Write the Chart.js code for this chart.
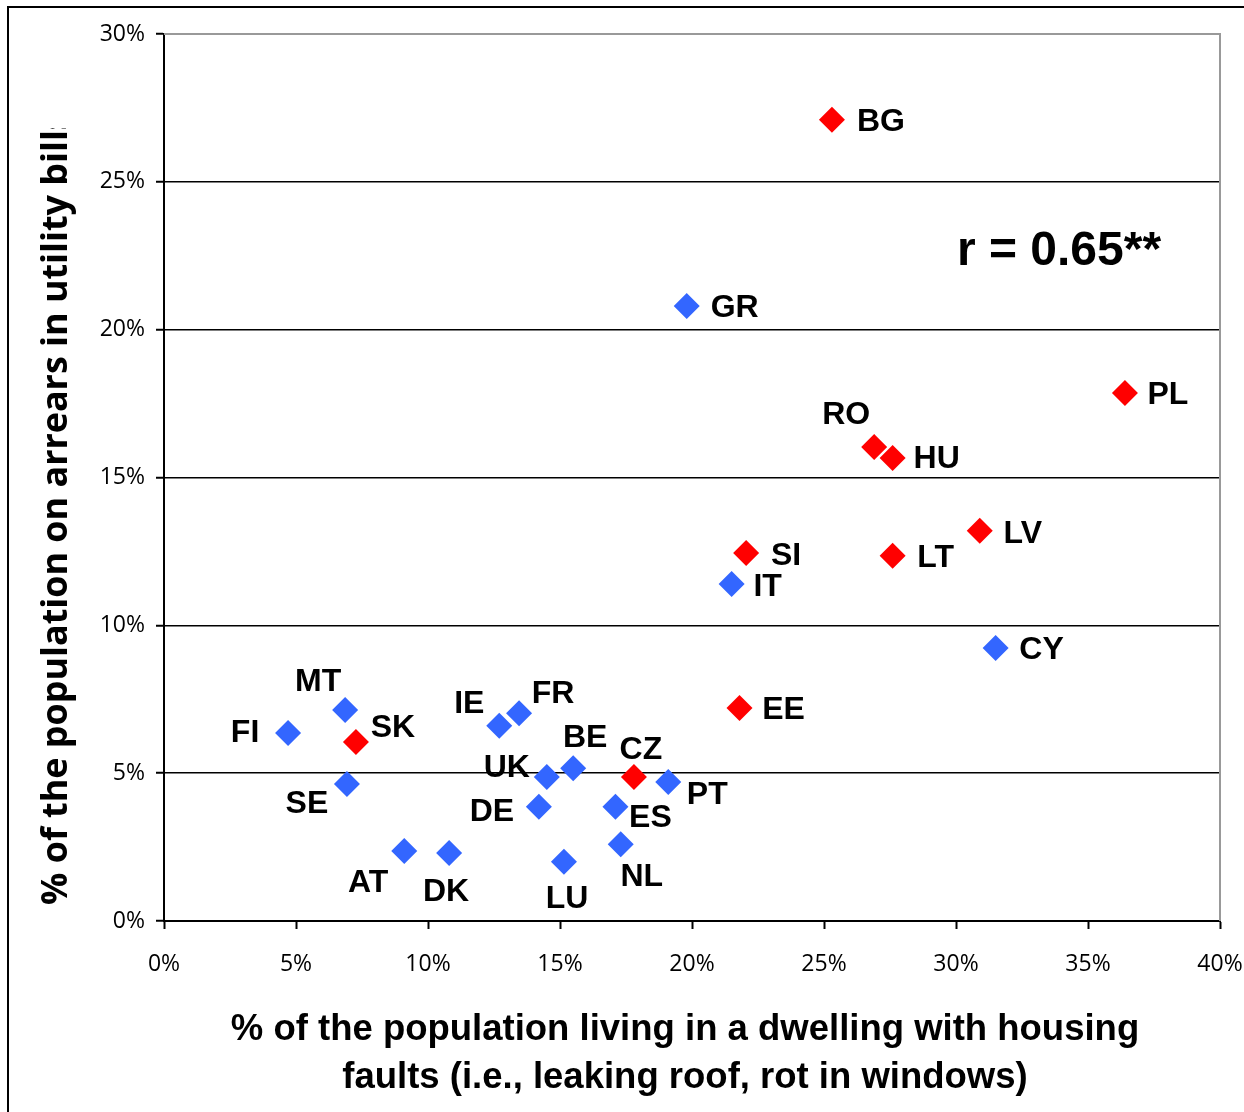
<!DOCTYPE html>
<html>
<head>
<meta charset="utf-8">
<script src="https://cdn.jsdelivr.net/npm/chart.js@4.4.0/dist/chart.umd.min.js"></script>
<style>
  body { margin: 0; background: #fff; }
  #wrap { width: 1244px; height: 1112px; }
</style>
</head>
<body>
<div id="wrap"><canvas id="scatter" width="1244" height="1112"></canvas></div>
<script>
// Country codes and their values (% of population)
const countries = ['BG', 'GR', 'PL', 'RO', 'HU', 'LV', 'LT', 'SI', 'IT', 'CY', 'EE', 'MT', 'FI', 'SK',
                   'SE', 'IE', 'FR', 'UK', 'BE', 'DE', 'CZ', 'PT', 'ES', 'NL', 'LU', 'AT', 'DK'];
// x: living in a dwelling with housing faults
const housingFaults = [25.3, 19.8, 36.4, 26.9, 27.6, 30.9, 27.6, 22.05, 21.5, 31.5, 21.8, 6.86, 4.7, 7.27,
                       6.93, 12.7, 13.45, 14.5, 15.5, 14.2, 17.8, 19.1, 17.1, 17.3, 15.15, 9.1, 10.8];
// y: arrears in utility bills
const utilityArrears = [27.1, 20.8, 17.86, 16.03, 15.66, 13.2, 12.35, 12.45, 11.4, 9.23, 7.2, 7.14, 6.36, 6.05,
                        4.63, 6.6, 7.03, 4.87, 5.17, 3.86, 4.87, 4.7, 3.86, 2.6, 2.0, 2.37, 2.3];
// highlighted group (red markers)
const redGroup = ['BG', 'PL', 'RO', 'HU', 'LV', 'LT', 'SI', 'EE', 'SK', 'CZ'];

const xTicks = [0, 5, 10, 15, 20, 25, 30, 35, 40];
const yTicks = [0, 5, 10, 15, 20, 25, 30];
const correlationText = 'r = 0.65**';
const xTitle = ['% of the population living in a dwelling with housing', 'faults (i.e., leaking roof, rot in windows)'];
const yTitle = '% of the population on arrears in utility bills';

// label placement around each marker (pixels, label centre relative to point)
const labelOffset = {
  BG: [49, 2], GR: [48, 2], PL: [43, 2], RO: [-28, -32], HU: [44, 1], LV: [43, 3], LT: [43, 2],
  SI: [40, 3], IT: [36, 3], CY: [46, 2], EE: [44, 2], MT: [-27, -28], FI: [-43, 0], SK: [37, -14],
  SE: [-40, 20], IE: [-30, -22], FR: [34, -19], UK: [-40, -9], BE: [12, -30], DE: [-47, 5],
  CZ: [7, -27], PT: [39, 13], ES: [35, 11], NL: [21, 33], LU: [3, 37], AT: [-36, 32], DK: [-3, 39]
};

const points = countries.map((c, i) => ({ x: housingFaults[i], y: utilityArrears[i], code: c }));
const colors = countries.map(c => redGroup.includes(c) ? '#FF0000' : '#3366FF');

const extras = {
  id: 'extras',
  beforeDraw(chart) {
    const ctx = chart.ctx;
    ctx.save();
    ctx.fillStyle = '#fff';
    ctx.fillRect(0, 0, chart.width, chart.height);
    // outer frame
    ctx.strokeStyle = '#000';
    ctx.lineWidth = 2;
    ctx.strokeRect(8, 7, 1400, 1300);
    ctx.restore();
  },
  beforeDatasetsDraw(chart) {
    const ctx = chart.ctx;
    const a = chart.chartArea;
    ctx.save();
    ctx.strokeStyle = '#999';
    ctx.lineWidth = 2;
    ctx.beginPath();
    ctx.moveTo(a.left, a.top);
    ctx.lineTo(a.right, a.top);
    ctx.lineTo(a.right, a.bottom);
    ctx.stroke();
    ctx.restore();
  },
  afterDatasetsDraw(chart) {
    const ctx = chart.ctx;
    const meta = chart.getDatasetMeta(0);
    ctx.save();
    ctx.font = 'bold 32px "Liberation Sans", Arial, sans-serif';
    ctx.fillStyle = '#000';
    ctx.textAlign = 'center';
    ctx.textBaseline = 'middle';
    meta.data.forEach((el, i) => {
      const off = labelOffset[countries[i]] || [40, 0];
      ctx.fillText(countries[i], el.x + off[0], el.y + off[1]);
    });

    // correlation note
    ctx.font = 'bold 48px "Liberation Sans", Arial, sans-serif';
    ctx.fillText(correlationText, 1059, 252);

    // x axis title
    ctx.font = 'bold 36.5px "Liberation Sans", Arial, sans-serif';
    ctx.fillText(xTitle[0], 685, 1030);
    ctx.fillText(xTitle[1], 685, 1078);

    // y axis title (clipped at top like the original)
    ctx.beginPath();
    ctx.rect(0, 128, 140, 1000);
    ctx.clip();
    ctx.translate(57, 905);
    ctx.rotate(-Math.PI / 2);
    ctx.font = 'bold 100px "Open Sans", sans-serif';
    const w = ctx.measureText(yTitle).width;
    const size = 100 * 792 / w;
    ctx.font = 'bold ' + size.toFixed(1) + 'px "Open Sans", sans-serif';
    ctx.textAlign = 'left';
    ctx.fillText(yTitle, 0, 0);
    ctx.restore();
  }
};

new Chart(document.getElementById('scatter'), {
  type: 'scatter',
  data: {
    datasets: [{
      label: 'Countries',
      data: points,
      pointStyle: 'rectRot',
      pointRadius: 13,
      pointHoverRadius: 13,
      pointBackgroundColor: colors,
      pointBorderWidth: 0
    }]
  },
  options: {
    responsive: false,
    animation: false,
    events: [],
    layout: { padding: { left: 0, top: 34, right: 24, bottom: 0 } },
    plugins: {
      legend: { display: false },
      tooltip: { enabled: false }
    },
    scales: {
      x: {
        type: 'linear',
        min: 0,
        max: 40,
        afterFit: s => { s.height = 191; s.paddingLeft = 0; s.paddingRight = 0; },
        afterBuildTicks: s => { s.ticks = xTicks.map(v => ({ value: v })); },
        border: { color: '#000', width: 2 },
        grid: { drawOnChartArea: false, drawTicks: true, tickLength: 8, tickColor: '#000', tickWidth: 2 },
        ticks: {
          color: '#000',
          padding: 22,
          maxRotation: 0,
          font: { family: '"Open Sans", sans-serif', size: 23 },
          callback: v => v + '%'
        }
      },
      y: {
        type: 'linear',
        min: 0,
        max: 30,
        afterFit: s => { s.width = 164; s.paddingTop = 0; s.paddingBottom = 0; },
        afterBuildTicks: s => { s.ticks = yTicks.map(v => ({ value: v })); },
        border: { color: '#000', width: 2 },
        grid: {
          color: c => (c.tick && c.tick.value === 30) ? 'rgba(0,0,0,0)' : '#000',
          lineWidth: 1.5,
          tickLength: 8,
          tickColor: '#000',
          tickWidth: 2
        },
        ticks: {
          color: '#000',
          padding: 11,
          font: { family: '"Open Sans", sans-serif', size: 23 },
          callback: v => v + '%'
        }
      }
    }
  },
  plugins: [extras]
});
</script>
</body>
</html>
